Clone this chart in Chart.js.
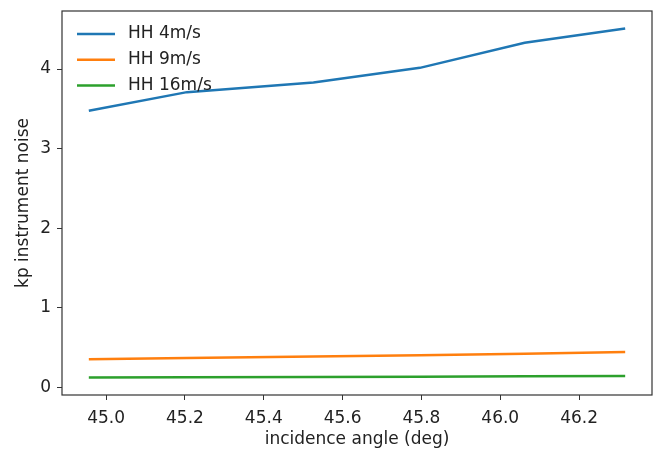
<!DOCTYPE html>
<html>
<head>
<meta charset="utf-8">
<script src="https://cdn.jsdelivr.net/npm/chart.js@4"></script>
<style>
  body { margin: 0; background: #fff; }
  canvas { display: block; }
</style>
</head>
<body>
<canvas id="kpChart" width="661" height="463"></canvas>
<script>
// ---- data ----
const incidenceAngles = [44.956, 45.205, 45.526, 45.796, 46.062, 46.317];
const hh4 = [3.475, 3.71, 3.83, 4.015, 4.33, 4.51];
const hh9 = [0.355, 0.37, 0.39, 0.405, 0.425, 0.447];
const hh16 = [0.125, 0.128, 0.132, 0.136, 0.14, 0.145];

const seriesLabels = ["HH 4m/s", "HH 9m/s", "HH 16m/s"];
const seriesColors = ["#1f77b4", "#ff7f0e", "#2ca02c"];

const xTicks = [45.0, 45.2, 45.4, 45.6, 45.8, 46.0, 46.2];
const yTicks = [0, 1, 2, 3, 4];

const FONT = "DejaVu Sans";
const FSIZE = 17;
const TEXT = "#222";

// matplotlib style 5% margins around the data
function padRange(vals) {
    const lo = Math.min(...vals), hi = Math.max(...vals);
    const m = (hi - lo) * 0.05;
    return [lo - m, hi + m];
}
const [xMin, xMax] = padRange(incidenceAngles);
const [yMin, yMax] = padRange(hh4.concat(hh9, hh16));

function toPoints(ys) {
    return incidenceAngles.map((x, i) => ({ x: x, y: ys[i] }));
}

const allSeries = [hh4, hh9, hh16];
const datasets = allSeries.map((ys, i) => ({
    label: seriesLabels[i],
    data: toPoints(ys),
    borderColor: seriesColors[i],
    backgroundColor: seriesColors[i],
    borderWidth: 2.5,
    pointRadius: 0,
    tension: 0,
    fill: false
}));

// frame around the plot area + legend inside upper left
const framePlugin = {
    id: "frame",
    afterDraw(chart) {
        const { ctx, chartArea: a } = chart;
        ctx.save();
        ctx.strokeStyle = "#333";
        ctx.lineWidth = 1.2;
        ctx.strokeRect(a.left, a.top, a.right - a.left, a.bottom - a.top);

        ctx.font = FSIZE + "px '" + FONT + "'";
        ctx.textBaseline = "middle";
        ctx.fillStyle = TEXT;
        chart.data.datasets.forEach((ds, i) => {
            const y = 34 + i * 25.8;
            ctx.strokeStyle = ds.borderColor;
            ctx.lineWidth = 2.5;
            ctx.beginPath();
            ctx.moveTo(77, y);
            ctx.lineTo(115, y);
            ctx.stroke();
            ctx.fillText(ds.label, 128, y);
        });
        ctx.restore();
    }
};

new Chart(document.getElementById("kpChart"), {
    type: "line",
    data: { datasets: datasets },
    options: {
        responsive: false,
        animation: false,
        layout: { padding: { top: 11, right: 9, left: 0, bottom: 0 } },
        plugins: {
            legend: { display: false },
            tooltip: { enabled: false }
        },
        scales: {
            x: {
                type: "linear",
                min: xMin,
                max: xMax,
                afterBuildTicks: s => { s.ticks = xTicks.map(v => ({ value: v })); },
                afterFit: s => { s.height = 68; s.paddingLeft = 0; s.paddingRight = 0; },
                border: { display: false },
                grid: {
                    drawOnChartArea: false,
                    drawTicks: true,
                    tickLength: 5,
                    tickColor: "#333",
                    tickWidth: 1
                },
                ticks: {
                    color: TEXT,
                    padding: 8,
                    maxRotation: 0,
                    font: { family: FONT, size: FSIZE },
                    callback: v => v.toFixed(1)
                },
                title: {
                    display: true,
                    text: "incidence angle (deg)",
                    color: TEXT,
                    font: { family: FONT, size: FSIZE },
                    padding: { top: 0, bottom: 13 }
                }
            },
            y: {
                type: "linear",
                min: yMin,
                max: yMax,
                afterBuildTicks: s => { s.ticks = yTicks.map(v => ({ value: v })); },
                afterFit: s => { s.width = 62; s.paddingTop = 0; s.paddingBottom = 0; },
                border: { display: false },
                grid: {
                    drawOnChartArea: false,
                    drawTicks: true,
                    tickLength: 5,
                    tickColor: "#333",
                    tickWidth: 1
                },
                ticks: {
                    color: TEXT,
                    padding: 6,
                    font: { family: FONT, size: FSIZE },
                    callback: v => String(v)
                },
                title: {
                    display: true,
                    text: "kp instrument noise",
                    color: TEXT,
                    font: { family: FONT, size: FSIZE },
                    padding: { top: 13, bottom: 0 }
                }
            }
        }
    },
    plugins: [framePlugin]
});
</script>
</body>
</html>
